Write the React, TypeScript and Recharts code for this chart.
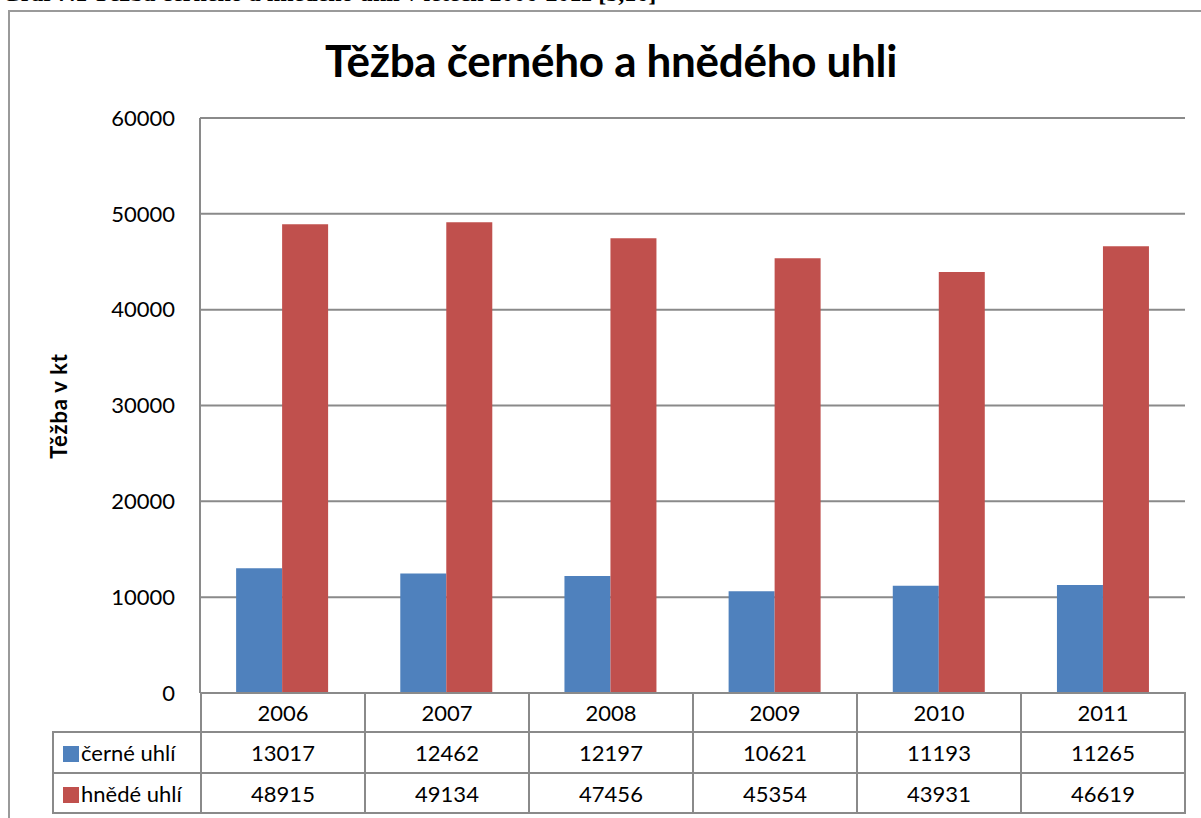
import React from 'react'
import { BarChart, Bar, XAxis, YAxis, CartesianGrid } from 'recharts'

const years = ['2006', '2007', '2008', '2009', '2010', '2011']
const cerneUhli = [13017, 12462, 12197, 10621, 11193, 11265]
const hnedeUhli = [48915, 49134, 47456, 45354, 43931, 46619]
const yTicks = [0, 10000, 20000, 30000, 40000, 50000, 60000]

const seriesNames = ['černé uhlí', 'hnědé uhlí']
const colors = ['#4F81BD', '#C0504D']

const data = years.map((y, i) => ({ year: y, cerne: cerneUhli[i], hnede: hnedeUhli[i] }))

const W = 1201
const H = 818
const plotLeft = 200
const plotRight = 1185
const plotTop = 118
const plotBottom = 693
const gridColor = '#8a8a8a'
const font = 'Lato, "Open Sans", sans-serif'

export default function App() {
  const cell: React.CSSProperties = {
    border: `2px solid ${gridColor}`,
    textAlign: 'center',
    padding: 0,
    fontSize: 22,
    color: '#000',
  }
  const rows = [cerneUhli, hnedeUhli]

  return (
    <div style={{ position: 'absolute', left: 0, top: 0, width: W, height: H, overflow: 'hidden', background: '#fff', fontFamily: font }}>
      {/* caption above the chart, cut off by the page edge */}
      <div style={{ position: 'absolute', left: 2, top: -20, fontFamily: '"Liberation Serif", serif', fontWeight: 'bold', fontSize: 24, whiteSpace: 'nowrap', color: '#000' }}>
        Graf 7.1 Těžba černého a hnědého uhlí v letech 2006-2011 [5,16]
      </div>

      {/* chart frame */}
      <div style={{ position: 'absolute', left: 8, top: 10, width: 1220, height: 840, border: '2px solid #9a9a9a', boxSizing: 'border-box' }} />

      <div style={{ position: 'absolute', left: 611, top: 60, transform: 'translate(-50%, -50%)', fontSize: 44, fontWeight: 'bold', whiteSpace: 'nowrap', color: '#000', letterSpacing: -0.3 }}>
        Těžba černého a hnědého uhli
      </div>

      <div style={{ position: 'absolute', left: 58, top: 406, transform: 'translate(-50%, -50%) rotate(-90deg)', fontSize: 22, fontWeight: 'bold', whiteSpace: 'nowrap', color: '#000', letterSpacing: 0.8 }}>
        Těžba v kt
      </div>

      <div style={{ position: 'absolute', left: 0, top: 0 }}>
        <BarChart
          width={W}
          height={H}
          data={data}
          margin={{ top: plotTop, right: W - plotRight, bottom: H - plotBottom, left: 0 }}
          barCategoryGap="22%"
          barGap={0}
        >
          <CartesianGrid vertical={false} stroke={gridColor} strokeWidth={2} />
          <XAxis dataKey="year" hide />
          <YAxis
            width={plotLeft}
            domain={[0, 60000]}
            ticks={yTicks}
            interval={0}
            tickLine={false}
            tickSize={0}
            tickMargin={25}
            axisLine={{ stroke: gridColor, strokeWidth: 2 }}
            tick={{ fill: '#000', fontSize: 22, fontFamily: font }}
          />
          <Bar dataKey="cerne" name={seriesNames[0]} fill={colors[0]} isAnimationActive={false} />
          <Bar dataKey="hnede" name={seriesNames[1]} fill={colors[1]} isAnimationActive={false} />
        </BarChart>
      </div>

      {/* data table under the plot */}
      <table style={{ position: 'absolute', left: 52, top: plotBottom - 1, width: plotRight - 52 + 1, borderCollapse: 'collapse', tableLayout: 'fixed', fontFamily: font }}>
        <colgroup>
          <col style={{ width: plotLeft - 52 }} />
          {years.map(y => <col key={y} />)}
        </colgroup>
        <tbody>
          <tr style={{ height: 39 }}>
            <td style={{ border: 'none' }} />
            {years.map(y => <td key={y} style={cell}>{y}</td>)}
          </tr>
          {rows.map((r, ri) => (
            <tr key={ri} style={{ height: ri === 0 ? 41 : 40 }}>
              <td style={{ ...cell, textAlign: 'left', paddingLeft: 9, whiteSpace: 'nowrap' }}>
                <span style={{ display: 'inline-block', width: 16, height: 16, background: colors[ri], marginRight: 2, verticalAlign: -1 }} />
                {seriesNames[ri]}
              </td>
              {r.map((v, i) => <td key={i} style={cell}>{v}</td>)}
            </tr>
          ))}
        </tbody>
      </table>
    </div>
  )
}
